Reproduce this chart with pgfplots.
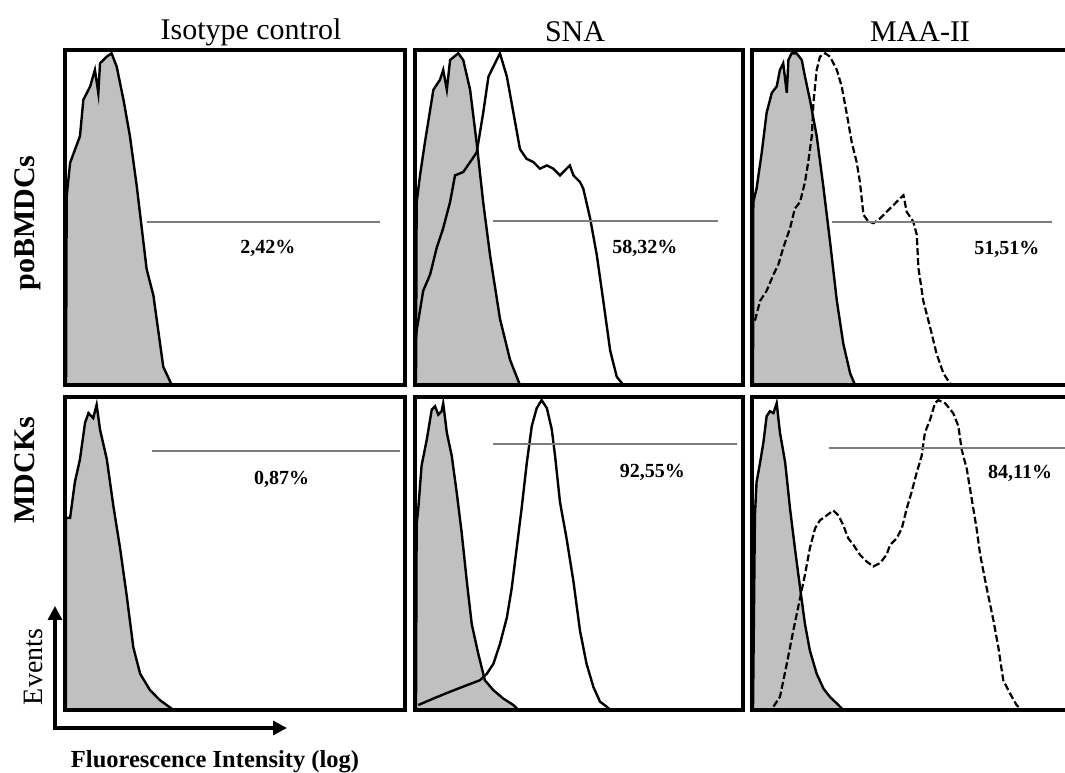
\documentclass[border=0pt]{standalone}
\usepackage{fontspec}
\setmainfont{Liberation Serif}
\usepackage{pgfplots}
\pgfplotsset{compat=1.18}
\usetikzlibrary{arrows.meta}
\definecolor{histgray}{RGB}{192,192,192}
\definecolor{gategray}{RGB}{125,125,125}
\pgfplotsset{
  panel/.style={scale only axis, anchor=south west, xmin=0, xmax=100, ymin=0, ymax=101,
    ticks=none, axis line style={line width=3.2pt}, axis on top, clip=true},
  iso/.style={fill=histgray, draw=black, line width=2.4pt},
  sam/.style={draw=black, line width=2.4pt},
  samd/.style={draw=black, line width=2.2pt, dash pattern=on 7pt off 3pt},
  gate/.style={draw=gategray, line width=2pt},
}
\tikzset{pct/.style={font=\fontsize{20}{20}\selectfont\bfseries}}
\begin{document}
\begin{tikzpicture}
\useasboundingbox (0pt,0pt) rectangle (1065pt,773pt);

% ---------- top row: poBMDCs ----------
\begin{axis}[panel, at={(65pt,388pt)}, width=340pt, height=335pt]
\addplot[iso] coordinates {(0.3,0) (0.5,57) (1.5,67) (4.4,75) (5.4,86) (7.4,90) (8.8,95) (9.8,88) (10.3,97) (12.3,99) (13.7,100) (15.2,96) (17.2,86) (19.1,75) (21.1,60) (24,35) (26,27) (28.9,5.5) (31.4,0)} \closedcycle;
\addplot[gate] coordinates {(24,49) (92.6,49)};
\node[pct] at (axis cs:59.7,41.2) {2,42\%};
\end{axis}

\begin{axis}[panel, at={(415pt,388pt)}, width=328pt, height=335pt]
\addplot[iso] coordinates {(0.3,0) (0.5,55) (1.5,63) (3,73) (5.6,89) (7.6,92) (8.6,95) (9.7,89) (10.7,98) (13.2,100) (14.7,98) (16.8,89) (18.8,73) (20.8,55) (22.9,39) (25.9,20) (29,7.5) (32,0)} \closedcycle;
\addplot[sam] coordinates {(0.3,14) (0.5,16.4) (2.5,28.4) (4.6,33.3) (6.6,41.3) (8.6,47.3) (10.7,55.2) (12.2,63.2) (14.7,64.2) (16.8,67.2) (18.8,70.1) (20.8,82.1) (22.4,93) (23.9,96) (25.9,100) (28,93) (30,82.1) (32,71.1) (34,68.2) (36.1,67.2) (38.1,65.2) (40.2,66.2) (42.2,65.2) (44.2,63.2) (46.2,65.2) (47.2,66.2) (48.3,63.2) (50.3,61.2) (51.3,59.2) (53.4,50.2) (55.4,39.3) (57.4,25.4) (59.5,10.4) (61.5,2.5) (63.5,0)};
\addplot[gate] coordinates {(23.9,49.4) (92.5,49.4)};
\node[pct] at (axis cs:70.1,41.3) {58,32\%};
\end{axis}

\begin{axis}[panel, at={(752pt,388pt)}, width=325pt, height=335pt]
\addplot[iso] coordinates {(0.3,0) (0.4,55.2) (1.4,59.2) (3,70.1) (4.5,82.1) (6.1,88.1) (7.6,90) (8.6,95) (9.6,97) (10.7,88.1) (11.2,98) (12.2,100) (13.7,100) (15.3,98) (16.3,93) (17.8,86.1) (19.9,75.1) (21.9,60.2) (24,43.3) (26.1,25.4) (28.1,12.4) (30.2,3.5) (31.7,0)} \closedcycle;
\addplot[samd] coordinates {(0.9,19.4) (2.5,25.4) (4.5,28.4) (6.6,33.3) (8.1,36.3) (9.6,41.3) (11.7,47.3) (13.2,53.2) (14.8,55.2) (16.3,61.2) (17.3,67.2) (18.4,75.1) (18.9,85.1) (19.9,95) (20.9,99) (22.5,100) (24,99) (26.1,95) (27.6,90) (29.1,82.1) (30.7,73.1) (32.2,67.2) (33.2,61.2) (34.3,51.3) (35.8,49.3) (37.4,48.8) (39.4,50.2) (41.4,52.2) (43.5,54.2) (45.5,56.2) (46.6,57.2) (47.6,52.2) (49.6,49.3) (50.7,45.3) (51.2,35.3) (52.7,25.4) (54.8,17.4) (56.8,9.4) (58.9,3.5) (60.9,0.5) (61.9,0)};
\addplot[gate] coordinates {(24.5,49) (92.2,49)};
\node[pct] at (axis cs:78.4,40.8) {51,51\%};
\end{axis}

% ---------- bottom row: MDCKs ----------
\begin{axis}[panel, at={(65pt,63pt)}, width=340pt, height=313pt]
\addplot[iso] coordinates {(0.3,0) (0.3,62) (1.5,62) (2.9,73.5) (4.4,80.9) (5.9,92.7) (6.9,95.8) (8.3,94.2) (9.3,98.5) (10.3,90.5) (12.3,80.9) (14.2,66) (16.2,52.2) (18.1,37.3) (20.1,20.2) (22.1,11.7) (25,6.4) (27.9,3.2) (31.9,0)} \closedcycle;
\addplot[gate] coordinates {(25.5,83.6) (98.5,83.6)};
\node[pct] at (axis cs:63.7,74.5) {0,87\%};
\end{axis}

\begin{axis}[panel, at={(415pt,63pt)}, width=328pt, height=313pt]
\addplot[iso] coordinates {(0.3,0) (0.5,60) (1,65) (2,78.8) (3.6,87.3) (5.1,96.9) (6.1,98) (7.1,95.3) (8.1,96.4) (8.6,99) (9.7,89.5) (11.2,82) (12.7,70.3) (14.2,57.5) (15.8,41.5) (17.3,27.7) (19.3,18.1) (21.3,9.6) (23.9,6.4) (26.9,3.7) (30,1.6) (31.5,0)} \closedcycle;
\addplot[sam] coordinates {(1,1.6) (5.6,3.7) (10.7,5.9) (15.8,8) (19.8,9.6) (21.9,11.7) (23.9,14.9) (25.9,21.3) (28,29.8) (29.5,39.4) (31,52.2) (32.5,65) (34.1,79.9) (35.6,91.6) (37.1,97.4) (38.6,100) (40.2,97.4) (41.7,90.5) (42.7,82) (44.2,67.1) (46.2,55.4) (48.3,41.5) (50.3,25.6) (52.3,14.9) (54.4,7.4) (56.4,2.7) (58.4,1.1) (59.5,0)};
\addplot[gate] coordinates {(23.9,85.9) (98.1,85.9)};
\node[pct] at (axis cs:72.4,76.7) {92,55\%};
\end{axis}

\begin{axis}[panel, at={(752pt,63pt)}, width=325pt, height=313pt]
\addplot[iso] coordinates {(0.3,0) (0.9,62.8) (1.4,73.5) (2.5,79.9) (3.5,86.3) (4.5,94.8) (5.5,96.4) (6.6,95.8) (7.6,99) (8.6,89.5) (10.2,79.9) (11.7,65) (13.2,52.2) (14.8,39.4) (16.3,27.7) (17.8,19.2) (19.9,11.7) (22,6.9) (24,4.2) (26.1,2.1) (27.6,0.5) (28.5,0)} \closedcycle;
\addplot[samd] coordinates {(6.6,1.1) (8.6,4.2) (10.7,14.9) (12.7,25.6) (14.8,36.2) (16.3,43.7) (17.8,52.2) (19.4,58.6) (20.9,61.2) (23,62.8) (25,64.4) (26.6,62.8) (28.1,59.6) (29.6,55.4) (31.2,53.3) (33.2,50.1) (35.3,47.9) (37.3,46.3) (39.4,47.4) (41.4,50.1) (42.5,53.3) (44.5,55.4) (46.1,58.6) (47.6,65) (49.1,70.3) (50.7,76.7) (52.2,82) (53.2,89.5) (54.8,93.7) (56.3,99) (57.3,100) (59.4,99) (61.9,95.8) (63.5,91.6) (64.5,84.1) (66.1,77.7) (67.6,68.1) (69.1,58.6) (70.2,50.1) (72.2,39.4) (74.3,28.8) (75.8,20.2) (77.3,9.6) (79.4,5.3) (81.4,1.6) (82.5,0.5) (83,0)};
\addplot[gate] coordinates {(23.6,84.4) (100,84.4)};
\node[pct] at (axis cs:82.5,76.5) {84,11\%};
\end{axis}

% ---------- titles and labels ----------
\node[font=\fontsize{30}{30}\selectfont] at (251pt,741pt) {Isotype control};
\node[font=\fontsize{30}{30}\selectfont] at (575pt,741pt) {SNA};
\node[font=\fontsize{30}{30}\selectfont] at (920pt,741pt) {MAA-II};
\node[rotate=90, font=\fontsize{30}{30}\selectfont\bfseries] at (28pt,550pt) {poBMDCs};
\node[rotate=90, font=\fontsize{30}{30}\selectfont\bfseries] at (25pt,303pt) {MDCKs};
\node[rotate=90, font=\fontsize{28}{28}\selectfont] at (33pt,106pt) {Events};
\draw[line width=3.2pt, {Triangle[length=14pt,width=14pt]}-{Triangle[length=14pt,width=14pt]}] (55pt,167pt) -- (55pt,45pt) -- (287pt,45pt);
\node[font=\fontsize{24.5}{24.5}\selectfont\bfseries] at (215pt,11pt) {Fluorescence Intensity (log)};
\end{tikzpicture}
\end{document}
